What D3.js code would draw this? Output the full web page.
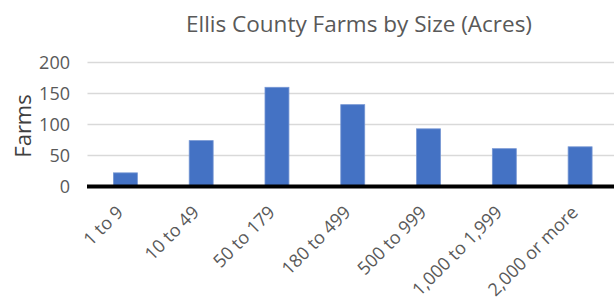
<!DOCTYPE html>
<html>
<head>
<meta charset="utf-8">
<script src="https://cdn.jsdelivr.net/npm/d3@7"></script>
<style>
  body { margin: 0; background: #fff; }
  text { font-family: "Open Sans", "Liberation Sans", sans-serif; }
</style>
</head>
<body>
<div id="chart"></div>
<script>
// farm size classes and counts
var sizes = ["1 to 9", "10 to 49", "50 to 179", "180 to 499", "500 to 999", "1,000 to 1,999", "2,000 or more"];
var farms = [22, 74, 160, 132, 93, 61, 64];
var yTicks = [0, 50, 100, 150, 200];

var width = 614
var height = 303

var svg = d3.select("#chart")
    .append("svg")
    .attr("width", width)
    .attr("height", height);

// plot area runs past the right edge (cropped like the original)
var x = d3.scaleBand()
    .domain(sizes)
    .range([87.5, 618])
    .paddingInner(0.684)
    .paddingOuter(0.342);

var y = d3.scaleLinear()
    .domain([0, 200])
    .range([186.5, 62.5]);

// gridlines
svg.selectAll(".grid")
    .data(yTicks.filter(function (d) { return d > 0; }))
    .enter()
    .append("line")
    .attr("x1", 87.5)
    .attr("x2", width)
    .attr("y1", function (d) { return y(d); })
    .attr("y2", function (d) { return y(d); })
    .attr("stroke", "#d9d9d9")
    .attr("stroke-width", 1.5);

// bars
svg.selectAll(".bar")
    .data(sizes)
    .enter()
    .append("rect")
    .attr("x", function (d) { return x(d); })
    .attr("width", x.bandwidth())
    .attr("y", function (d, i) { return y(farms[i]); })
    .attr("height", function (d, i) { return y(0) - y(farms[i]); })
    .attr("fill", "#4472c4")
    .attr("stroke", "#7596d3")
    .attr("stroke-width", 0.8);

// x axis line
svg.append("line")
    .attr("x1", 87)
    .attr("x2", width)
    .attr("y1", y(0))
    .attr("y2", y(0))
    .attr("stroke", "#000")
    .attr("stroke-width", 4);

// y tick labels
svg.selectAll(".ytick")
    .data(yTicks)
    .enter()
    .append("text")
    .attr("x", 70)
    .attr("y", function (d) { return y(d); })
    .attr("dy", "0.35em")
    .attr("text-anchor", "end")
    .style("font-size", "18px")
    .style("fill", "#595959")
    .text(function (d) { return d; });

// x tick labels, rotated
svg.selectAll(".xtick")
    .data(sizes)
    .enter()
    .append("text")
    .attr("transform", function (d) {
        return "translate(" + (x(d) + x.bandwidth() / 2 - 1) + "," + (y(0) + 27) + ") rotate(-45)";
    })
    .attr("text-anchor", "end")
    .style("font-size", "18px")
    .style("fill", "#595959")
    .text(function (d) { return d; });

// axis title
svg.append("text")
    .attr("transform", "translate(31,126) rotate(-90)")
    .attr("text-anchor", "middle")
    .style("font-size", "22px")
    .style("fill", "#404040")
    .text("Farms");

// title
svg.append("text")
    .attr("x", 359)
    .attr("y", 32)
    .attr("text-anchor", "middle")
    .style("font-size", "22.5px")
    .style("fill", "#595959")
    .text("Ellis County Farms by Size (Acres)");
</script>
</body>
</html>
